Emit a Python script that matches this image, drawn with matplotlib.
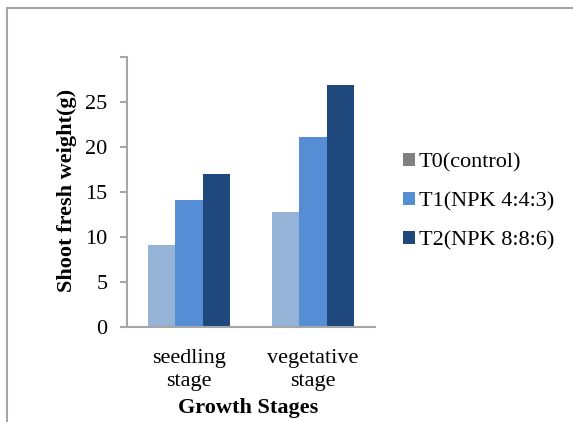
import matplotlib
matplotlib.use("Agg")
import matplotlib.pyplot as plt
from matplotlib.lines import Line2D
from matplotlib.patches import Patch
import numpy as np

plt.rcParams['font.family'] = ['Liberation Serif', 'DejaVu Serif']

# shoot fresh weight (g) per growth stage and treatment
stages = ["seedling\nstage", "vegetative\nstage"]
treatments = ["T0(control)", "T1(NPK 4:4:3)", "T2(NPK 8:8:6)"]
t0_weight = [9.1, 12.8]
t1_weight = [14.1, 21.1]
t2_weight = [16.95, 26.85]

bar_colors = ["#95B3D7", "#558ED5", "#1F497D"]
legend_colors = ["#808080", "#558ED5", "#1F497D"]
axis_grey = "#A6A6A6"

W, H = 573, 422
fig = plt.figure(figsize=(W / 100, H / 100), dpi=100)

# plot area in pixels: x 127..375, y 57..327
ax = fig.add_axes([127 / W, 1 - 327 / H, 248 / W, 270 / H])

x = np.arange(len(stages))
width = 0.223
for i, vals in enumerate([t0_weight, t1_weight, t2_weight]):
    ax.bar(x + (i - 1) * width, vals, width, color=bar_colors[i],
           edgecolor="none", zorder=2)

ax.set_xlim(-0.5, 1.5)
ax.set_ylim(0, 30)
ax.set_yticks(range(0, 31, 5))
ax.set_yticklabels(["0", "5", "10", "15", "20", "25", ""])
ax.set_xticks(x)
ax.set_xticklabels(stages, fontsize=16, linespacing=1.3)
ax.tick_params(axis="x", length=0, pad=16)
ax.tick_params(axis="y", length=5, width=1.5, color=axis_grey,
               labelsize=16, pad=9)

for side in ["top", "right"]:
    ax.spines[side].set_visible(False)
for side in ["left", "bottom"]:
    ax.spines[side].set_color(axis_grey)
    ax.spines[side].set_linewidth(1.5)

ax.set_ylabel("Shoot fresh weight(g)", fontsize=16, fontweight="bold",
              va="center")
ax.yaxis.set_label_coords((67 - 127) / 248, (327 - 190) / 270)
ax.set_xlabel("Growth Stages", fontsize=16, fontweight="bold", va="center")
ax.xaxis.set_label_coords((248 - 127) / 248, (327 - 408) / 270)

handles = [Patch(facecolor=c, edgecolor="none") for c in legend_colors]
fig.legend(handles, treatments, loc="upper left",
           bbox_to_anchor=(394 / W, 1 - 144 / H), frameon=False,
           fontsize=16, handlelength=0.54, handleheight=0.5,
           handletextpad=0.18, labelspacing=0.9, borderaxespad=0)

# chart frame edges
fig.add_artist(Line2D([7 / W, 1], [1 - 8 / H, 1 - 8 / H], color=axis_grey,
                      linewidth=1.5, transform=fig.transFigure))
fig.add_artist(Line2D([7 / W, 7 / W], [0, 1 - 8 / H], color=axis_grey,
                      linewidth=1.5, transform=fig.transFigure))

fig.savefig("out.png", dpi=100)
